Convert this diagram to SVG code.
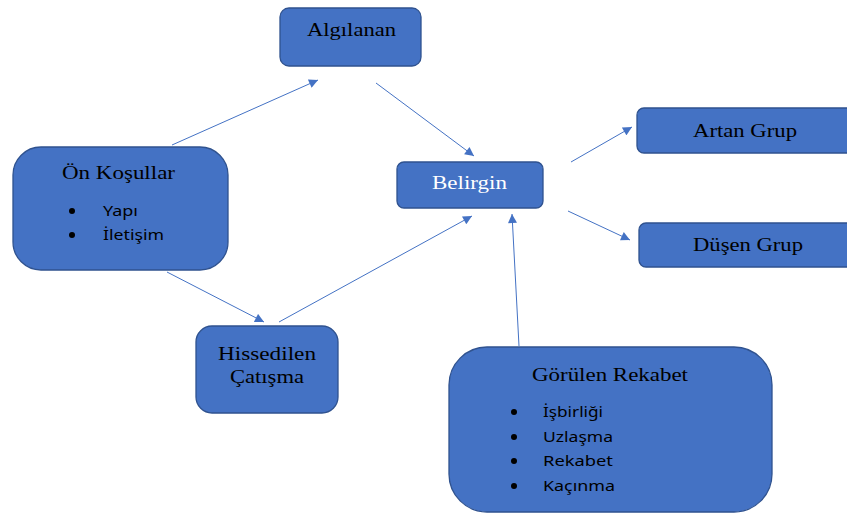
<svg xmlns="http://www.w3.org/2000/svg" width="847" height="514" viewBox="0 0 847 514">
<defs>
<marker id="ah" viewBox="0 0 10 10" refX="10" refY="5" markerWidth="10" markerHeight="9" markerUnits="userSpaceOnUse" orient="auto">
<path d="M0,0 L10,5 L0,10 z" fill="#4472C4"/>
</marker>
<style>
.box{fill:#4472C4;stroke:#2F528F;stroke-width:1.3}
.t{font-family:"Liberation Serif","Times New Roman",serif;font-size:19px;fill:#000;text-anchor:start}
.w{fill:#fff}
.b{font-family:"Noto Sans","Open Sans",sans-serif;font-size:15px;fill:#000}
.c{stroke:#4472C4;stroke-width:1;fill:none;marker-end:url(#ah)}
</style>
</defs>
<rect width="847" height="514" fill="#fff"/>
<g id="connectors">
<line class="c" x1="172" y1="145" x2="318" y2="80"/>
<line class="c" x1="376" y1="83" x2="474" y2="156"/>
<line class="c" x1="167" y1="272" x2="264" y2="322"/>
<line class="c" x1="279" y1="322" x2="472" y2="216"/>
<line class="c" x1="519" y1="346" x2="512" y2="214"/>
<line class="c" x1="571" y1="162" x2="632" y2="127"/>
<line class="c" x1="568" y1="211" x2="630" y2="240"/>
</g>
<g id="algilanan">
<rect class="box" x="280" y="8" width="141" height="58" rx="9"/>
<text class="t" x="307" y="36" textLength="89" lengthAdjust="spacingAndGlyphs">Algılanan</text>
</g>
<g id="belirgin">
<rect class="box" x="397" y="162" width="146" height="46" rx="7"/>
<text class="t w" x="432" y="189" textLength="75" lengthAdjust="spacingAndGlyphs">Belirgin</text>
</g>
<g id="artan">
<rect class="box" x="637" y="108" width="220" height="45" rx="7"/>
<text class="t" x="693" y="137" textLength="104" lengthAdjust="spacingAndGlyphs">Artan Grup</text>
</g>
<g id="dusen">
<rect class="box" x="639" y="223" width="218" height="44" rx="7"/>
<text class="t" x="693" y="251" textLength="110" lengthAdjust="spacingAndGlyphs">Düşen Grup</text>
</g>
<g id="onkosullar">
<rect class="box" x="13" y="147" width="215" height="123" rx="28"/>
<text class="t" x="62" y="179" textLength="113" lengthAdjust="spacingAndGlyphs">Ön Koşullar</text>
<circle cx="72" cy="211" r="3" fill="#000"/>
<circle cx="72" cy="235" r="3" fill="#000"/>
<text class="b" x="103" y="216" textLength="35" lengthAdjust="spacingAndGlyphs">Yapı</text>
<text class="b" x="103" y="240" textLength="61" lengthAdjust="spacingAndGlyphs">İletişim</text>
</g>
<g id="hissedilen">
<rect class="box" x="196" y="326" width="142" height="87" rx="16"/>
<text class="t" x="218" y="360" textLength="98" lengthAdjust="spacingAndGlyphs">Hissedilen</text>
<text class="t" x="230" y="383" textLength="74" lengthAdjust="spacingAndGlyphs">Çatışma</text>
</g>
<g id="gorulen">
<rect class="box" x="449" y="347" width="323" height="165" rx="38"/>
<text class="t" x="532" y="381" textLength="156" lengthAdjust="spacingAndGlyphs">Görülen Rekabet</text>
<circle cx="514" cy="412" r="3" fill="#000"/>
<circle cx="514" cy="437" r="3" fill="#000"/>
<circle cx="514" cy="461" r="3" fill="#000"/>
<circle cx="514" cy="486" r="3" fill="#000"/>
<text class="b" x="543" y="417" textLength="60" lengthAdjust="spacingAndGlyphs">İşbirliği</text>
<text class="b" x="543" y="442" textLength="70" lengthAdjust="spacingAndGlyphs">Uzlaşma</text>
<text class="b" x="543" y="466" textLength="70" lengthAdjust="spacingAndGlyphs">Rekabet</text>
<text class="b" x="543" y="491" textLength="72" lengthAdjust="spacingAndGlyphs">Kaçınma</text>
</g>
</svg>
